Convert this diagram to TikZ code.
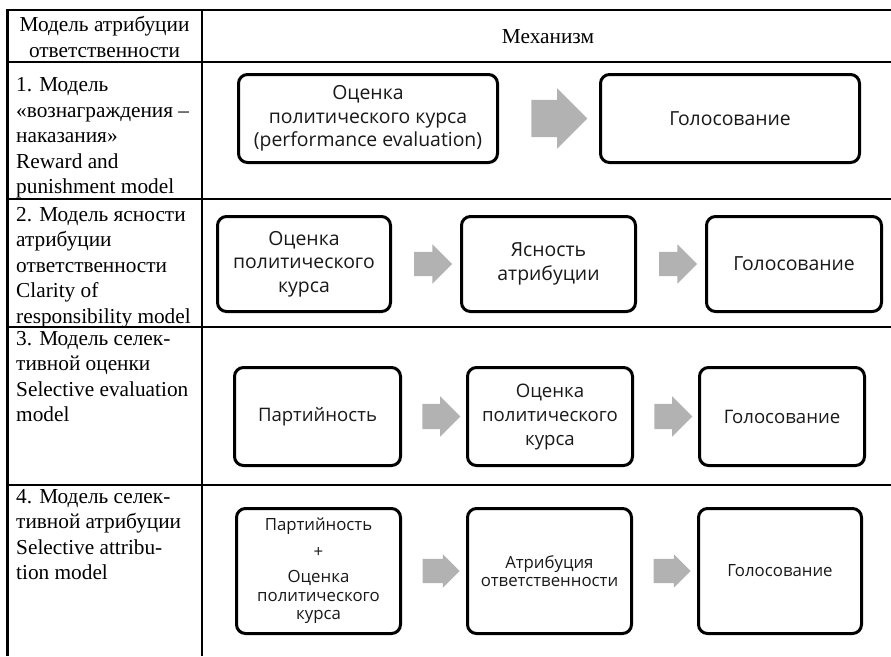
\documentclass[tikz,border=0pt]{standalone}
\usepackage{fontspec}
\setmainfont{Liberation Serif}
\newfontfamily\boxfont{Open Sans}
\usetikzlibrary{shapes.arrows,calc}

\tikzset{
  stage/.style={draw, line width=3pt, rounded corners=9pt, fill=white,
    align=center, inner sep=2pt, text=black!90},
  fontA/.style={font=\boxfont\fontsize{19.4}{23.5}\selectfont},
  fontB/.style={font=\boxfont\fontsize{18.6}{24}\selectfont},
  fontC/.style={font=\boxfont\fontsize{16.8}{18.5}\selectfont},
  flow/.style={single arrow, fill=gray!60, draw=none, inner xsep=0pt,
    inner ysep=12pt, minimum height=38pt, single arrow head extend=7.5pt},
  cell/.style={anchor=base west, inner sep=0pt,
    font=\fontsize{21.3}{25.5}\selectfont}
}
\tikzset{tabline/.style={line width=2.5pt}}

\begin{document}
\begin{tikzpicture}[x=1pt, y=-1pt]
  \useasboundingbox (0,0) rectangle (891,656);

  % table rules
  \foreach \y in {10,62,199,327,485}
    \draw[tabline] (7.5,\y) -- (891,\y);
  \draw[tabline] (7.5,8.75) -- (7.5,656);
  \draw[tabline] (202,8.75) -- (202,656);

  % header
  \node[cell, anchor=base] (hmodel) at (104.5,31.7)
    {\begin{tabular}[t]{@{}c@{}}Модель атрибуции\\ответственности\end{tabular}};
  \node[cell, anchor=base] (hmech) at (548,43.3) {Механизм};

  % left column
  \node[cell] (m1) at (16,91.5)
    {\begin{tabular}[t]{@{}l@{}}1. Модель\\«вознаграждения –\\наказания»\\Reward and\\punishment model\end{tabular}};
  \node[cell] (m2) at (16,221)
    {\begin{tabular}[t]{@{}l@{}}2. Модель ясности\\атрибуции\\ответственности\\Clarity of\\responsibility model\end{tabular}};
  \node[cell] (m3) at (16,345)
    {\begin{tabular}[t]{@{}l@{}}3. Модель селек-\\тивной оценки\\Selective evaluation\\model\end{tabular}};
  \node[cell] (m4) at (16,503)
    {\begin{tabular}[t]{@{}l@{}}4. Модель селек-\\тивной атрибуции\\Selective attribu-\\tion model\end{tabular}};

  % row 1
  \node[stage, fontA, minimum width=259pt, minimum height=88pt] (eval1) at (368,118.5)
    {Оценка\\политического курса\\(performance evaluation)};
  \node[stage, fontA, minimum width=259pt, minimum height=88pt] (vote1) at (730,118.5)
    {Голосование};
  \node[flow, minimum height=56pt, inner ysep=18.5pt, single arrow head extend=11.5pt]
    (f11) at ($(eval1.east)!0.5!(vote1.west)+(1,0)$) {};

  % row 2
  \node[stage, fontA, minimum width=173pt, minimum height=95pt] (eval2) at (304,264)
    {Оценка\\политического\\курса};
  \node[stage, fontA, minimum width=174pt, minimum height=95pt] (clar2) at (548.5,264)
    {Ясность\\атрибуции};
  \node[stage, fontA, minimum width=175pt, minimum height=95pt] (vote2) at (794,264)
    {Голосование};
  \node[flow] (f21) at ($(eval2.east)!0.5!(clar2.west)+(1,0)$) {};
  \node[flow] (f22) at ($(clar2.east)!0.5!(vote2.west)+(1,0)$) {};

  % row 3
  \node[stage, fontB, minimum width=166pt, minimum height=98pt] (party3) at (317.5,416.5)
    {Партийность};
  \node[stage, fontB, minimum width=165pt, minimum height=98pt] (eval3) at (550,416.5)
    {Оценка\\политического\\курса};
  \node[stage, fontB, minimum width=165pt, minimum height=98pt] (vote3) at (782,416.5)
    {Голосование};
  \node[flow, inner ysep=12.5pt] (f31) at ($(party3.east)!0.5!(eval3.west)+(1,0)$) {};
  \node[flow, inner ysep=12.5pt] (f32) at ($(eval3.east)!0.5!(vote3.west)+(1,0)$) {};

  % row 4
  \node[stage, fontC, minimum width=164pt, minimum height=125pt] (party4) at (318.5,571)
    {Партийность\\[8pt]+\\[7pt]Оценка\\политического\\курса};
  \node[stage, fontC, minimum width=164pt, minimum height=125pt] (attr4) at (549.5,571)
    {Атрибуция\\ответственности};
  \node[stage, fontC, minimum width=163pt, minimum height=125pt] (vote4) at (780,571)
    {Голосование};
  \node[flow, minimum height=37pt, single arrow head extend=4.5pt]
    (f41) at ($(party4.east)!0.5!(attr4.west)+(1,0)$) {};
  \node[flow, minimum height=37pt, single arrow head extend=4.5pt]
    (f42) at ($(attr4.east)!0.5!(vote4.west)+(1,0)$) {};
\end{tikzpicture}
\end{document}
